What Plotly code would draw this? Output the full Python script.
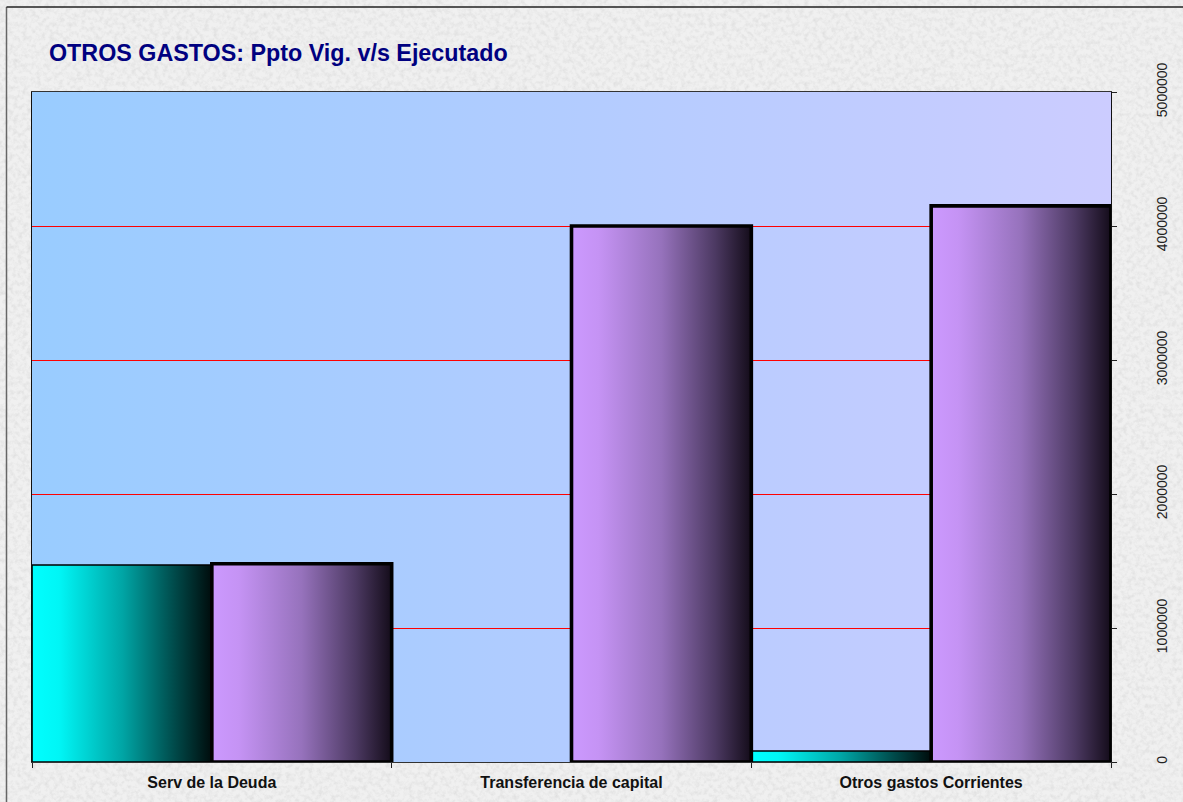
import base64
import plotly.graph_objects as go

# ---- data ----
categories = ["Serv de la Deuda", "Transferencia de capital", "Otros gastos Corrientes"]
ppto_vig = [1470000, 0, 82000]
ejecutado = [1480000, 4000000, 4150000]
y_ticks = [0, 1000000, 2000000, 3000000, 4000000, 5000000]

W, H = 1183, 802
ML, MR, MT, MB = 32, 72, 92, 40
PW, PH = W - ML - MR, H - MT - MB

cyan_scale = [[0, "#00FFFF"], [0.15, "#00F6F6"], [0.5, "#00A6A6"], [0.8, "#004848"], [1, "#000C0C"]]
purple_scale = [[0, "#CC99FF"], [0.15, "#C593F4"], [0.5, "#9672BC"], [0.8, "#4C3962"], [1, "#140C1A"]]

fig = go.Figure()

series = [
    (ppto_vig, -0.5, cyan_scale, 1.6),
    (ejecutado, 0.0, purple_scale, 3.6),
]
for values, off, scale, lw in series:
    for i, v in enumerate(values):
        if not v:
            continue
        x0, x1 = i + off, i + off + 0.5
        fig.add_trace(go.Scatter(
            x=[x0, x0, x1, x1, x0], y=[0, v, v, 0, 0],
            mode="lines", fill="toself",
            fillgradient=dict(type="horizontal", colorscale=scale),
            line=dict(color="black", width=lw),
            hoverinfo="skip", showlegend=False,
        ))

# textures / backgrounds as svg images
paper_svg = f'''<svg xmlns="http://www.w3.org/2000/svg" width="{W}" height="{H}">
<filter id="n" x="0" y="0" width="100%" height="100%">
<feTurbulence type="fractalNoise" baseFrequency="0.22" numOctaves="4" seed="7"/>
<feColorMatrix type="matrix" values="0 0 0 0 0.6 0 0 0 0 0.6 0 0 0 0 0.6 0.9 0 0 0 -0.36"/>
</filter>
<rect width="100%" height="100%" fill="#f0f0f0"/>
<rect width="100%" height="100%" filter="url(#n)"/>
</svg>'''
plot_svg = '''<svg xmlns="http://www.w3.org/2000/svg" width="100" height="100" preserveAspectRatio="none">
<defs><linearGradient id="g" x1="0" y1="0" x2="1" y2="0">
<stop offset="0" stop-color="#99CCFF"/><stop offset="1" stop-color="#CCCCFF"/>
</linearGradient></defs>
<rect width="100" height="100" fill="url(#g)"/>
</svg>'''


def uri(s):
    return "data:image/svg+xml;base64," + base64.b64encode(s.encode()).decode()


fig.add_layout_image(dict(
    source=uri(paper_svg), xref="paper", yref="paper",
    x=-ML / PW, y=1 + MT / PH, sizex=W / PW, sizey=H / PH,
    sizing="stretch", xanchor="left", yanchor="top", layer="below",
))
fig.add_layout_image(dict(
    source=uri(plot_svg), xref="paper", yref="paper",
    x=0, y=1, sizex=1, sizey=1,
    sizing="stretch", xanchor="left", yanchor="top", layer="below",
))

# outer chart border (left and top)
bx = (6.5 - ML) / PW
by = 1 + (MT - 7) / PH
fig.add_shape(type="line", xref="paper", yref="paper", x0=bx, x1=bx, y0=-MB / PH - 0.1, y1=by,
              line=dict(color="#666666", width=1.5))
fig.add_shape(type="line", xref="paper", yref="paper", x0=bx, x1=(W - ML) / PW + 0.1, y0=by, y1=by,
              line=dict(color="#222222", width=1.5))

fig.add_annotation(
    text="<b>OTROS GASTOS: Ppto Vig. v/s Ejecutado</b>",
    xref="paper", yref="paper", x=(47 - ML) / PW, y=1 + (MT - 53) / PH,
    xanchor="left", yanchor="middle", showarrow=False,
    font=dict(family="Arial, Liberation Sans", size=23.3, color="#000080"),
)

fig.update_layout(
    width=W, height=H,
    margin=dict(l=ML, r=MR, t=MT, b=MB, pad=0, autoexpand=False),
    paper_bgcolor="#efefef",
    plot_bgcolor="rgba(0,0,0,0)",
    showlegend=False,
    font=dict(family="Arial, Liberation Sans", color="#111111"),
    xaxis=dict(
        range=[-0.5, 2.5], fixedrange=True, automargin=False,
        tickvals=list(range(len(categories))), ticktext=categories,
        ticks="", showgrid=False, zeroline=False,
        showline=True, linecolor="#333333", linewidth=1, mirror=True,
        tickfont=dict(size=16, color="#111111", weight="bold"),
        ticklabelstandoff=6,
        minor=dict(tick0=-0.5, dtick=1, ticks="outside", ticklen=5, tickcolor="#222222", showgrid=False),
    ),
    yaxis=dict(
        range=[0, 5000000], side="right", fixedrange=True, automargin=False,
        tickvals=y_ticks, ticktext=[str(t) for t in y_ticks],
        ticks="outside", ticklen=5, tickcolor="#222222",
        showgrid=True, gridcolor="#FF0000", gridwidth=1, zeroline=False,
        showline=True, linecolor="#111111", linewidth=1, mirror=True,
        tickangle=-90, tickfont=dict(size=14, color="#222222"),
        ticklabelstandoff=33,
    ),
)

fig.write_html("out.html", config={"displayModeBar": False},
               post_script="document.body.style.margin='0';")
